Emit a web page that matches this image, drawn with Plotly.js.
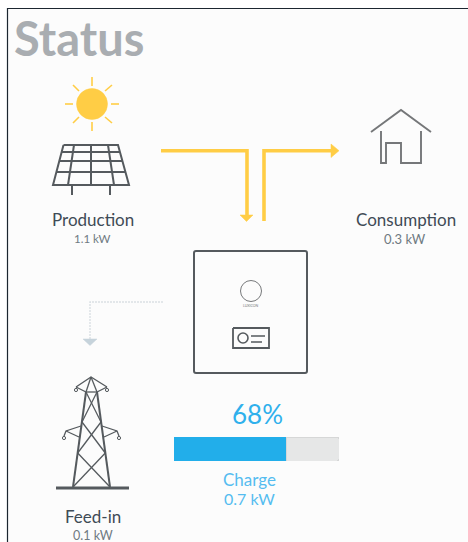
<!DOCTYPE html>
<html>
<head>
<meta charset="utf-8">
<script src="https://cdn.plot.ly/plotly-3.0.1.min.js"></script>
<style>html,body{margin:0;padding:0;background:#fff}#c{width:468px;height:542px}</style>
</head>
<body>
<div id="c"></div>
<script>
// ---- data ----
const chartTitle = "Status";
const nodeNames = ["Production", "Consumption", "Feed-in"];
const nodeValues = ["1.1 kW", "0.3 kW", "0.1 kW"];
const chargePercent = [68];
const chargeRemaining = [32];
const chargeLabel = "Charge";
const chargeValue = "0.7 kW";

// ---- drawing helpers ----
const YEL = "#ffcd45", DK = "#555a5e", BLUE = "#2fb0ec";
const traces = [];
function poly(segs, color, width, dash) {
  const x = [], y = [];
  segs.forEach(s => { s.forEach(p => { x.push(p[0]); y.push(p[1]); }); x.push(null); y.push(null); });
  traces.push({type:"scatter", mode:"lines", x, y, hoverinfo:"skip", showlegend:false,
    line:{color, width, dash:dash||"solid", shape:"linear"}, xaxis:"x", yaxis:"y"});
}
function filled(p, color) {
  traces.push({type:"scatter", mode:"lines", x:p.map(a=>a[0]), y:p.map(a=>a[1]), fill:"toself",
    fillcolor:color, hoverinfo:"skip", showlegend:false, line:{color, width:0.5}, xaxis:"x", yaxis:"y"});
}
const shapes = [];
function circle(cx, cy, r, stroke, width, fill) {
  shapes.push({type:"circle", xref:"x", yref:"y", x0:cx-r, x1:cx+r, y0:cy-r, y1:cy+r,
    line:{color:stroke, width}, fillcolor:fill||"rgba(0,0,0,0)", layer:"above"});
}

// frame
poly([[[7.5,542],[7.5,8.5],[468,8.5]]], "#1c2630", 1.2);

// sun
circle(92,104,15.5,YEL,0.5,YEL);
poly([[[92,77],[92,86]],[[92,122],[92,131]],[[65,104],[73,104]],[[111,104],[119,104]],
      [[73,85],[79,91]],[[105,91],[112,85]],[[73,123],[79,117]],[[105,117],[112,123]]], YEL, 1.6);

// solar panel
poly([[[63.5,145],[118,145],[129,185],[53,185],[63.5,145]],
      [[61.5,152],[120,152]],[[59,161],[122.5,161]],[[56.5,172],[125.5,172]],
      [[74,145],[68,185]],[[91,145],[91,185]],[[108,145],[114,185]],
      [[72,185],[72,195]],[[110,185],[110,195]]], DK, 2);

// yellow flows
poly([[[161,150.7],[247,150.7],[247,215]]], YEL, 3.6);
filled([[240,215],[253,215],[246.5,221.5],[240,215]], YEL);
poly([[[264,221],[264,150.7],[332,150.7]]], YEL, 3.6);
filled([[331,144],[339,150.7],[331,157.5],[331,144]], YEL);

// house
poly([[[371,132],[401,110],[431,132]],
      [[381,131],[381,163],[386,163],[386,143],[401,143],[401,163],[421,163],[421,131]]], "#757779", 1.9);

// inverter
shapes.push({type:"path", xref:"x", yref:"y", layer:"above", fillcolor:"rgba(0,0,0,0)",
  line:{color:DK, width:2},
  path:"M196,251 L305,251 Q307,251 307,253 L307,371 Q307,373 305,373 L196,373 Q194,373 194,371 L194,253 Q194,251 196,251 Z"});
circle(251,291,10.5,"#77797b",1);
poly([[[233,328],[269,328],[269,348],[233,348],[233,328]]], DK, 1.8);
circle(243,338,5,DK,1.6);
poly([[[251,336],[265,336]],[[251,342],[262,342]]], DK, 1.5);

// dotted feed-in
poly([[[163,302],[90,302],[90,339]]], "#dae0e4", 1.4, "2px,1px");
filled([[83,339],[97,339],[90,345.5],[83,339]], "#c6d3db");

// tower
poly([[[56,488],[129,488]]], DK, 3);
poly([[[86,392],[73,487]],[[97,392],[110,487]]], DK, 2);
poly([[[76,387],[91,377],[107,387]],[[76,387],[86,392]],[[107,387],[97,392]],[[91,377],[86,392]],[[91,377],[97,392]],
      [[86,392],[97,392]],[[86,392],[101,422]],[[97,392],[82,422]],[[82,422],[105.3,453]],[[101,422],[77.7,453]],
      [[77.7,453],[110,487]],[[105.3,453],[73,487]],
      [[64,436],[66,431],[81,426]],[[119,436],[117,431],[102,426]],[[66,431],[79,437]],[[117,431],[104,437]]], DK, 1.3);
[[76,390],[107,390],[64,438],[119,438]].forEach(p => circle(p[0],p[1],1.6,DK,1));

// charge bar, on its own scale
traces.push({type:"bar", orientation:"h", y:[chargeLabel], x:chargePercent, marker:{color:"#22aeea", line:{width:0}},
  xaxis:"x2", yaxis:"y2", hoverinfo:"skip", showlegend:false, width:1});
traces.push({type:"bar", orientation:"h", y:[chargeLabel], x:chargeRemaining, marker:{color:"#e6e7e7", line:{color:"#d6d7d7", width:1}},
  xaxis:"x2", yaxis:"y2", hoverinfo:"skip", showlegend:false, width:1});

// ---- text ----
const FONT = "Lato, 'Open Sans', sans-serif";
function label(x, y, text, size, color, weight) {
  return {xref:"x", yref:"y", x, y, text, showarrow:false, xanchor:"center", yanchor:"middle",
    font:{family:FONT, size, color, weight:weight||400}};
}
const annotations = [
  {xref:"x", yref:"y", x:12, y:38, text:chartTitle, showarrow:false, xanchor:"left", yanchor:"middle",
   font:{family:FONT, size:47, color:"#a9adb1", weight:700}},
  label(93,219,nodeNames[0],17,"#3f4b56"),
  label(92.5,238.5,nodeValues[0],11.5,"#6f7a82"),
  label(405.5,219,nodeNames[1],17,"#3f4b56"),
  label(405,238.5,nodeValues[1],13,"#6f7a82"),
  label(92.5,516.5,nodeNames[2],17,"#3f4b56"),
  label(93,535.5,nodeValues[2],12.5,"#6f7a82"),
  label(257,414,chargePercent[0]+"%",26,BLUE),
  label(249,479,chargeLabel,17,"#55bcf0"),
  label(249,498,chargeValue,16,"#55bcf0"),
  label(251,306,"LUXICON",3.5,"#77797b")
];

const W = 468, H = 542;
const layout = {
  width:W, height:H, margin:{l:0,r:0,t:0,b:0}, paper_bgcolor:"#ffffff", plot_bgcolor:"#fcfcfc",
  showlegend:false, barmode:"stack", barcornerradius:2,
  xaxis:{range:[0,W], visible:false, domain:[0,1], fixedrange:true},
  yaxis:{range:[H,0], visible:false, domain:[0,1], fixedrange:true},
  xaxis2:{range:[0,100], visible:false, domain:[174/W,339/W], anchor:"y2", fixedrange:true},
  yaxis2:{visible:false, domain:[(H-461)/H,(H-437)/H], anchor:"x2", fixedrange:true},
  shapes, annotations
};
shapes.push({type:"rect", xref:"paper", yref:"paper", x0:0, x1:7/W, y0:0, y1:1, fillcolor:"#fff", line:{width:0}, layer:"below"});
shapes.push({type:"rect", xref:"paper", yref:"paper", x0:0, x1:1, y0:1-8/H, y1:1, fillcolor:"#fff", line:{width:0}, layer:"below"});
Plotly.newPlot("c", traces, layout, {displayModeBar:false, staticPlot:true});
</script>
</body>
</html>
